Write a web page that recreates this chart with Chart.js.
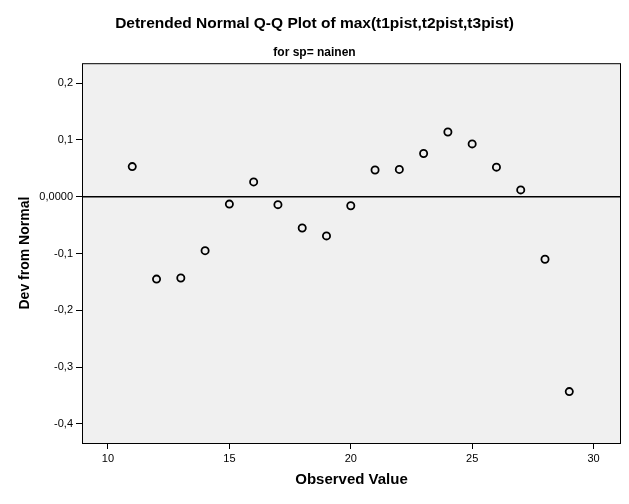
<!DOCTYPE html>
<html>
<head>
<meta charset="utf-8">
<script src="https://cdn.jsdelivr.net/npm/chart.js@4"></script>
<style>
  body { margin: 0; background: #fff; }
  #wrap { width: 629px; height: 504px; }
</style>
</head>
<body>
<div id="wrap"><canvas id="qqChart" width="629" height="504"></canvas></div>
<script>
// observed values and their deviation from normal
const observed = [11, 12, 13, 14, 15, 16, 17, 18, 19, 20, 21, 22, 23, 24, 25, 26, 27, 28, 29];
const devFromNormal = [0.053, -0.145, -0.143, -0.095, -0.013, 0.026, -0.014, -0.055, -0.069, -0.016,
  0.047, 0.048, 0.076, 0.114, 0.093, 0.052, 0.012, -0.110, -0.343];

// axis ranges and ticks
const xRange = [8.93, 31.13];
const yRange = [-0.4335, 0.235];
const xTicks = [10, 15, 20, 25, 30];
const yTicks = [-0.4, -0.3, -0.2, -0.1, 0, 0.1, 0.2];
const yTickLabels = ['-0,4', '-0,3', '-0,2', '-0,1', '0,0000', '0,1', '0,2'];

const fontFam = "Arial, 'Liberation Sans', sans-serif";

var points = observed.map(function (x, i) {
  return { x: x, y: devFromNormal[i] };
});

// plot area background + frame
const plotFrame = {
  id: 'plotFrame',
  beforeDatasetsDraw: function (chart) {
    const a = chart.chartArea, ctx = chart.ctx;
    ctx.save();
    ctx.fillStyle = '#f0f0f0';
    ctx.fillRect(a.left, a.top, a.right - a.left, a.bottom - a.top);
    ctx.restore();
  },
  afterDraw: function (chart) {
    const a = chart.chartArea, ctx = chart.ctx;
    ctx.save();
    ctx.strokeStyle = '#000';
    ctx.lineWidth = 1;
    ctx.strokeRect(a.left + 0.5, a.top + 0.5, a.right - a.left - 1, a.bottom - a.top);
    ctx.restore();
  }
};

new Chart(document.getElementById('qqChart'), {
  type: 'scatter',
  data: {
    datasets: [{
      type: 'line',
      data: [{ x: xRange[0], y: 0 }, { x: xRange[1], y: 0 }],
      borderColor: '#000',
      borderWidth: 1.5,
      pointRadius: 0,
      fill: false
    }, {
      data: points,
      pointStyle: 'circle',
      pointRadius: 3.6,
      pointBorderWidth: 1.8,
      pointBorderColor: '#000',
      pointBackgroundColor: 'rgba(0,0,0,0)'
    }]
  },
  plugins: [plotFrame],
  options: {
    responsive: false,
    animation: false,
    layout: { padding: { left: 8, right: 8, top: 0, bottom: 0 } },
    plugins: {
      legend: { display: false },
      tooltip: { enabled: false },
      title: {
        display: true,
        text: 'Detrended Normal Q-Q Plot of max(t1pist,t2pist,t3pist)',
        color: '#000',
        font: { family: fontFam, size: 15.5, weight: 'bold' },
        padding: { top: 14.7, bottom: 11.7 }
      },
      subtitle: {
        display: true,
        text: 'for sp= nainen',
        color: '#000',
        font: { family: fontFam, size: 12, weight: 'bold' },
        padding: { top: 0, bottom: 3.8 }
      }
    },
    scales: {
      x: {
        type: 'linear',
        min: xRange[0],
        max: xRange[1],
        afterBuildTicks: function (scale) {
          scale.ticks = xTicks.map(function (v) { return { value: v }; });
        },
        afterFit: function (scale) { scale.height = 61; },
        grid: { drawOnChartArea: false, drawTicks: true, tickLength: 6, tickColor: '#000', tickWidth: 1 },
        border: { display: false },
        ticks: {
          color: '#000',
          padding: 3,
          maxRotation: 0,
          font: { family: fontFam, size: 11 }
        },
        title: {
          display: true,
          text: 'Observed Value',
          color: '#000',
          font: { family: fontFam, size: 15, weight: 'bold' },
          padding: { top: 0, bottom: 15 }
        }
      },
      y: {
        type: 'linear',
        min: yRange[0],
        max: yRange[1],
        afterBuildTicks: function (scale) {
          scale.ticks = yTicks.map(function (v) { return { value: v }; });
        },
        afterFit: function (scale) { scale.width = 74; },
        grid: { drawOnChartArea: false, drawTicks: true, tickLength: 6, tickColor: '#000', tickWidth: 1 },
        border: { display: false },
        ticks: {
          color: '#000',
          padding: 3,
          font: { family: fontFam, size: 11 },
          callback: function (value) {
            var i = yTicks.findIndex(function (t) { return Math.abs(t - value) < 1e-9; });
            return i >= 0 ? yTickLabels[i] : '';
          }
        },
        title: {
          display: true,
          text: 'Dev from Normal',
          color: '#000',
          font: { family: fontFam, size: 14, weight: 'bold' },
          padding: { top: 8.6, bottom: 0 }
        }
      }
    }
  }
});
</script>
</body>
</html>
